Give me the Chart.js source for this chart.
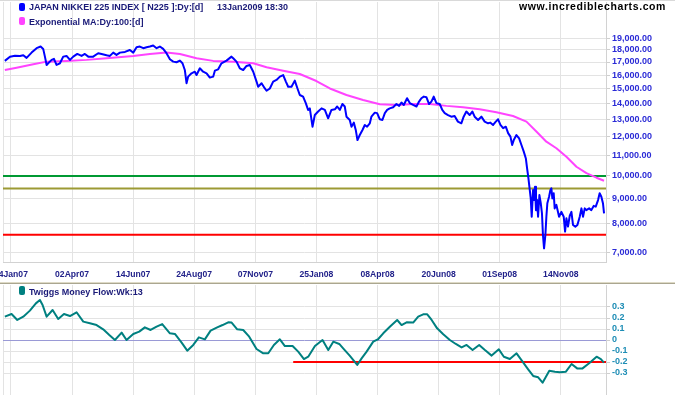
<!DOCTYPE html>
<html><head><meta charset="utf-8">
<script src="https://cdn.jsdelivr.net/npm/chart.js@4.4.1/dist/chart.umd.min.js"></script>
<style>
html,body{margin:0;padding:0;background:#fff;overflow:hidden;width:675px;height:395px;position:relative;font-family:'Liberation Sans',Arial,sans-serif;}
#wrapTop{position:absolute;left:-40px;top:0;width:715px;height:283px;}
#wrapBot{position:absolute;left:-40px;top:284px;width:715px;height:111px;}
.topline{position:absolute;left:0;top:0;width:675px;height:1px;background:#d9d9d9;}
.sep1{position:absolute;left:0;top:282px;width:675px;height:1px;background:#dedac6;}
.sep2{position:absolute;left:0;top:283px;width:675px;height:1px;background:#aaa690;}
.leg{position:absolute;font-weight:bold;font-size:9px;line-height:9px;color:#1a1a78;white-space:pre;}
.box{position:absolute;width:6px;height:8px;border-radius:2px;}
.url{position:absolute;left:519px;top:1px;font-weight:bold;font-size:10.5px;line-height:10.5px;letter-spacing:0.6px;color:#000;white-space:pre;}
</style>
</head><body>
<div id="wrapTop"><canvas id="top" width="715" height="283"></canvas></div>
<div id="wrapBot"><canvas id="bot" width="715" height="111"></canvas></div>
<div class="topline"></div>
<div class="sep1"></div><div class="sep2"></div>
<div class="box" style="left:19px;top:3px;background:#0000ff;"></div>
<div class="leg" style="left:29px;top:3px;">JAPAN NIKKEI 225 INDEX [ N225 ]:Dy:[d]</div>
<div class="leg" style="left:217px;top:3px;">13Jan2009 18:30</div>
<div class="box" style="left:19px;top:17px;background:#ff44ff;"></div>
<div class="leg" style="left:29px;top:17.5px;">Exponential MA:Dy:100:[d]</div>
<div class="url">www.incrediblecharts.com</div>
<div class="box" style="left:19px;top:286px;height:9px;background:#008080;"></div>
<div class="leg" style="left:29px;top:287.5px;">Twiggs Money Flow:Wk:13</div>
<script>
// ---- axis labels (trading-day index -> date label) ----
const xTickDays = [5, 55, 105, 155, 205, 255, 305, 355, 405, 455];
const xTickLabels = ['04Jan07','02Apr07','14Jun07','24Aug07','07Nov07','25Jan08','08Apr08','20Jun08','01Sep08','14Nov08'];
const priceTicks = [7000, 8000, 9000, 10000, 11000, 12000, 13000, 14000, 15000, 16000, 17000, 18000, 19000];
const tmfTicks = [-0.3, -0.2, -0.1, 0, 0.1, 0.2, 0.3];

// ---- Nikkei 225 daily close (trading-day index, value) ----
const nikkeiDay = [0,4.2,8.3,12.4,15.1,17.8,21.9,26,29.3,31.4,32.8,34.2,35.5,38.3,40.2,42.3,45.1,47.8,50.5,53.3,56,59.3,62.8,65.5,68.3,72.3,76.4,79.2,83.3,86,88.7,91.4,94.2,98.3,102.3,105.1,107.8,110.5,113.3,116,118.7,121.4,124.2,126.9,129.6,132.3,135.1,137.8,140.5,143.3,145.4,147.3,148.7,150,152.8,155.5,156.9,159.6,162.3,165.1,167.8,170.5,171.9,174.6,177.3,181.4,185.5,186.9,189.6,192.3,195.1,197.8,200.5,203.3,206,207.3,210.1,212.8,214.2,216.9,219.6,222.3,225.1,227.8,230,231.9,234.6,237.3,239.5,241.4,244.1,246.3,248.2,249.6,251.8,253.7,256.4,259.2,261.9,264.6,267.3,270.1,272,274.2,276.3,278.2,279.6,282.3,283.7,285.6,287.2,288.6,290.5,292.7,294.6,296.5,298.7,300,302.8,304.7,306.9,309,311,312.9,315,317.8,320.5,322.7,324.6,326.5,329.2,331.4,334.1,336.9,339,340.9,342.9,345,347.2,349.1,351,353.2,355.9,358,360,362.7,365.4,368.1,370.8,373.6,375.5,377.7,380.4,382.6,384.5,387.3,390,392.7,395.5,397.4,399.6,401.8,403.7,405.6,407.8,410,411.9,413.8,415.2,416.5,418.7,420.9,422.8,424.7,426.4,427.4,428.5,429.6,430.4,431.2,432.3,433.1,433.9,434.7,435.6,436.4,437.5,438.6,439.6,440.4,441.3,442.4,443.2,444,445.4,446.5,447.3,448.1,449.2,450,451.4,453.6,455.5,457.4,458.5,459.6,460.9,462.3,463.7,465,466.9,468.6,470.5,471.9,473.2,474.6,475.9,478.2,480,481.9,483.6,485.5,486.8,488.2,489.5,490.4];
const nikkeiClose = [17090,17430,17510,17490,17540,17330,17760,18130,18270,18070,17430,16770,16900,17170,17250,16770,16900,17430,17490,17170,17430,17650,17490,17650,17430,17430,17710,17650,17540,17490,17760,17570,17760,17820,17980,17760,18210,18270,18130,18210,18270,18360,18130,18270,18070,17710,17220,17030,16980,17110,16900,16380,15400,15880,16130,16250,16000,16510,16250,16130,15810,15880,16330,16430,16900,17110,17430,17300,17030,16510,16380,16690,16770,16250,15520,15150,15400,15030,14870,15030,15520,15640,15880,16000,15520,15150,15150,15590,15030,14580,14470,14040,13600,13700,12580,13280,13500,13700,13600,13080,13600,13640,13820,13600,13980,13820,13180,12980,12580,12820,12390,11820,12100,12390,12680,12580,12780,13180,13430,13400,13020,12980,13400,13600,13700,13770,13980,13860,14080,13920,14360,14040,13920,13820,14140,14360,14470,14430,13980,14140,14470,14040,13980,13600,13400,13280,13180,13220,12880,12780,13180,13500,13280,13500,13180,12980,13180,12880,12780,12820,12680,12880,13020,12680,12490,12580,12210,12010,11550,11820,12100,11910,11550,11200,10850,10370,9900,9370,9010,8270,9370,8940,9510,8530,8940,8270,9150,8810,8400,7600,7140,7600,8270,8810,9080,9370,9440,9010,9230,8600,8740,8270,8460,8270,7720,8210,7900,8300,8460,7960,7900,7960,8270,8600,8270,8600,8530,8600,8530,8700,8670,8940,9230,9080,8810,8400];

// ---- 100-day exponential MA ----
const maDay = [0,9.6,23.3,34.2,50.5,66.9,83.3,105.1,118.7,132.3,143.3,156.9,170.5,186.9,203.3,214.2,227.8,241.4,255,266,279.6,293.2,306.9,320.5,334.1,347.8,361.4,375,388.6,402.3,415.9,426.9,435,443.2,451.4,459.6,467.8,476,484.2,490.4];
const maValue = [16380,16560,16820,17030,17090,17170,17300,17490,17650,17760,17650,17300,17090,17030,16900,16590,16330,16080,15560,15030,14580,14240,13960,13920,13980,13980,13860,13770,13640,13450,13220,12880,12300,11730,11380,10940,10440,10130,9920,9780];

// ---- horizontal support / resistance levels ----
const levelValues = [10000, 9430, 7610];
const levelColors = ['#009933', '#9c9a34', '#ff0000'];

// ---- Twiggs Money Flow (weekly, 13) ----
const tmfDay = [0,5.5,10.2,15.1,20.5,25.4,28.7,30.9,34.2,39.1,43.7,48.4,53.3,58.7,64.2,69.6,75.1,80.5,85.5,90.1,95.6,99.6,105.1,110,114.6,119.3,124.2,128.8,135.1,139.2,144.7,149.3,154.2,158.8,163.7,168.4,173.8,178.2,182.8,185.6,190.2,195.1,200,206,211.5,215.6,220.2,225.1,229.2,235.5,240.1,244.8,248.3,253.8,260,264.7,268.8,273.7,276.9,282.4,288.4,292,296.1,301.5,305.6,309.7,315.1,321.1,324.7,328.8,334.2,338.3,342.4,345.7,349.3,353.8,358.8,364.2,369.1,373.8,377.9,382.8,388.2,392.9,398.4,404.3,408.4,413.3,418.8,423.7,428.3,432.4,436.5,440.1,445.6,450.2,454.3,459.2,463.8,468.4,472.8,478.2,484.3,487.8,490.3];
const tmfValue = [0.212,0.236,0.182,0.212,0.267,0.333,0.364,0.318,0.212,0.273,0.191,0.236,0.218,0.252,0.167,0.152,0.136,0.097,0.045,0,0.067,0,0.055,0.076,0.115,0.091,0.121,0.145,0.061,0.055,-0.024,-0.097,-0.045,0.024,0.006,0.085,0.115,0.136,0.161,0.158,0.097,0.091,0.030,-0.082,-0.121,-0.121,-0.045,0.006,-0.055,-0.055,-0.106,-0.173,-0.152,-0.055,0,-0.091,-0.015,-0.036,-0.076,-0.145,-0.227,-0.167,-0.106,-0.015,0.009,0.061,0.121,0.182,0.136,0.161,0.158,0.212,0.233,0.233,0.182,0.106,0.052,0,-0.036,-0.067,-0.045,-0.091,-0.045,-0.091,-0.142,-0.085,-0.152,-0.173,-0.121,-0.197,-0.267,-0.327,-0.339,-0.388,-0.279,-0.288,-0.294,-0.288,-0.218,-0.258,-0.258,-0.212,-0.152,-0.173,-0.206];
const tmfLevel = -0.2;
const tmfLevelStartDay = 236;

// ---- build ----
const xMin = -1.5, xMax = 492;
const FONT = "'Liberation Sans', Arial, sans-serif";
const GRID = '#e3e3e3';
const pairs = (xs, ys) => xs.map((d, i) => ({ x: d, y: ys[i] }));
const labelFor = v => { const i = xTickDays.indexOf(v); return i >= 0 ? xTickLabels[i] : ''; };

const xAxis = (showLabels) => ({
  type: 'linear', min: xMin, max: xMax,
  afterBuildTicks: s => { s.ticks = [{ value: xMin }].concat(xTickDays.map(v => ({ value: v }))); },
  afterFit: s => { s.height = showLabels ? 21 : 0; s.paddingLeft = 0; s.paddingRight = 0; },
  ticks: { display: showLabels, autoSkip: false, maxRotation: 0, padding: 7, color: '#22228a',
           font: { family: FONT, size: 8.6, weight: 'bold' }, callback: v => labelFor(v) },
  grid: { color: GRID, lineWidth: 1, drawTicks: false },
  border: { display: showLabels, color: '#d2d2d2' }
});

const yFit = s => { s.width = 69; s.paddingTop = 0; s.paddingBottom = 0; };

const common = {
  responsive: false, animation: false, devicePixelRatio: 1, events: [],
  plugins: { legend: { display: false }, tooltip: { enabled: false } },
  elements: { point: { radius: 0 }, line: { tension: 0, borderJoinStyle: 'round' } }
};

const levelSets = levelValues.map((v, i) => ({
  data: [{ x: xMin, y: v }, { x: xMax, y: v }], borderColor: levelColors[i], borderWidth: 2, pointRadius: 0
}));

new Chart(document.getElementById('top'), {
  type: 'line',
  data: { datasets: [
    { data: pairs(nikkeiDay, nikkeiClose), borderColor: '#0000ff', borderWidth: 2, pointRadius: 0 },
    { data: pairs(maDay, maValue), borderColor: '#ff44ff', borderWidth: 2, pointRadius: 0 }
  ].concat(levelSets) },
  options: Object.assign({}, common, {
    layout: { padding: { left: 43, top: 2, right: 0, bottom: 0 } },
    scales: {
      x: xAxis(true),
      y: { type: 'logarithmic', position: 'right', min: 6700, max: 22480,
        afterBuildTicks: s => { s.ticks = priceTicks.map(v => ({ value: v })); },
        afterFit: yFit,
        ticks: { padding: 2, color: '#2b2bd6', font: { family: FONT, size: 9, weight: 'bold' },
                 callback: v => Number(v).toLocaleString('en-US', { minimumFractionDigits: 2, maximumFractionDigits: 2 }) },
        grid: { color: GRID, tickLength: 4, drawTicks: true, tickColor: '#cfcfcf' },
        border: { color: '#d2d2d2' }
      }
    }
  })
});

new Chart(document.getElementById('bot'), {
  type: 'line',
  data: { datasets: [
    { data: pairs(tmfDay, tmfValue), borderColor: '#008080', borderWidth: 2, pointRadius: 0 },
    { data: [{ x: tmfLevelStartDay, y: tmfLevel }, { x: xMax, y: tmfLevel }], borderColor: '#ff0000', borderWidth: 2, pointRadius: 0 }
  ] },
  options: Object.assign({}, common, {
    layout: { padding: { left: 43, top: 1, right: 0, bottom: 0 } },
    scales: {
      x: xAxis(false),
      y: { type: 'linear', position: 'right', min: -0.5, max: 0.5,
        afterBuildTicks: s => { s.ticks = tmfTicks.map(v => ({ value: v })); },
        afterFit: yFit,
        ticks: { padding: 2, color: '#1d8db5', font: { family: FONT, size: 9, weight: 'bold' }, callback: v => String(v) },
        grid: { color: c => (c.tick && c.tick.value === 0) ? '#9a9ad6' : GRID, tickLength: 4, drawTicks: true, tickColor: '#cfcfcf' },
        border: { color: '#d2d2d2' }
      }
    }
  })
});
</script>
</body></html>
